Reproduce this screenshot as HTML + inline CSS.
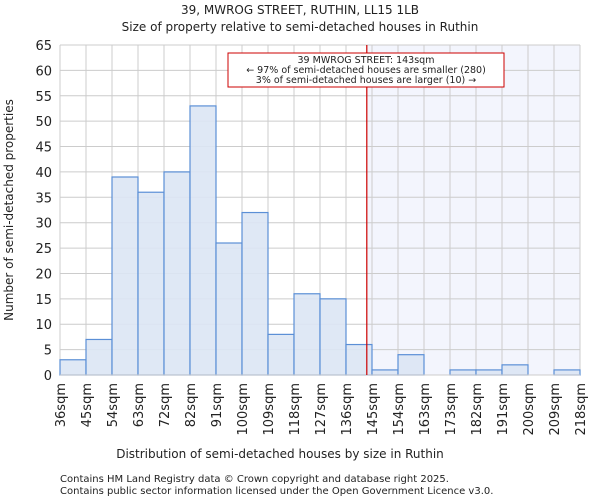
<!DOCTYPE html>
<html><head><meta charset="utf-8"><style>
body{margin:0;background:#fff;font-family:"DejaVu Sans","Liberation Sans",sans-serif;}
svg text{font-family:"DejaVu Sans","Liberation Sans",sans-serif;fill:#222;}
</style></head><body>
<svg id="c" width="600" height="500">
<text x="300" y="14" font-size="12" text-anchor="middle">39, MWROG STREET, RUTHIN, LL15 1LB</text>
<text x="300" y="31" font-size="12" text-anchor="middle">Size of property relative to semi-detached houses in Ruthin</text>
<g id="plot"></g>
<text x="280" y="458" font-size="12" text-anchor="middle">Distribution of semi-detached houses by size in Ruthin</text>
<text transform="translate(13,210) rotate(-90)" font-size="12" text-anchor="middle">Number of semi-detached properties</text>
<text x="60" y="482" font-size="10">Contains HM Land Registry data © Crown copyright and database right 2025.</text>
<text x="60" y="494" font-size="10">Contains public sector information licensed under the Open Government Licence v3.0.</text>
</svg>
<script>
const binLabels=["36sqm","45sqm","54sqm","63sqm","72sqm","82sqm","91sqm","100sqm","109sqm","118sqm","127sqm","136sqm","145sqm","154sqm","163sqm","173sqm","182sqm","191sqm","200sqm","209sqm","218sqm"];
const counts=[3,7,39,36,40,53,26,32,8,16,15,6,1,4,0,1,1,2,0,1];
const yTicks=[0,5,10,15,20,25,30,35,40,45,50,55,60,65];
const propertyIndex=11.8;
const X0=60,X1=580,Y0=375,Y1=45,YMAX=65;
const bw=(X1-X0)/counts.length;
const x=i=>X0+i*bw;
const y=v=>Y0-(v/YMAX)*(Y0-Y1);
const NS="http://www.w3.org/2000/svg";
const g=document.getElementById('plot');
function mk(t,a){const e=document.createElementNS(NS,t);for(const k in a)e.setAttribute(k,a[k]);g.appendChild(e);return e;}
const px=x(propertyIndex);
let sh=mk('rect',{x:px,y:Y1,width:X1-px,height:Y0-Y1,fill:'#f3f5fd'});


yTicks.forEach(t=>{
 let l=mk('line',{x1:X0,x2:X1,y1:y(t),y2:y(t),stroke:'#cccccc','stroke-width':1});
 
 
 let tx=mk('text',{x:X0-8,y:y(t)+5,'font-size':13,'text-anchor':'end'});tx.textContent=t;
 
 
});
binLabels.forEach((lb,i)=>{
 let l=mk('line',{x1:x(i),x2:x(i),y1:Y1,y2:Y0,stroke:'#cccccc','stroke-width':1});
 
 
 let tx=mk('text',{transform:`translate(${x(i)+5},${Y0+8}) rotate(-90)`,'font-size':13,'text-anchor':'end'});tx.textContent=lb;
 
 
});
counts.forEach((v,i)=>{
 if(v<=0)return;
 let r=mk('rect',{x:x(i),y:y(v),width:bw,height:Y0-y(v),fill:'#dce5f4',stroke:'#5b8fd6','stroke-width':1.2,'fill-opacity':0.9});
 
 
});
let ax=mk('line',{x1:X0,x2:X1,y1:Y0,y2:Y0,stroke:'#cccccc','stroke-width':1});


let rl=mk('line',{x1:px,x2:px,y1:Y1,y2:Y0,stroke:'#cc0000','stroke-width':1.2});


let bx=mk('rect',{x:228,y:53,width:276,height:34,fill:'#fff',stroke:'#cc0000','stroke-width':1});


[["39 MWROG STREET: 143sqm",63],["← 97% of semi-detached houses are smaller (280)",73],["3% of semi-detached houses are larger (10) →",83]].forEach(([s,yy])=>{
 let t=mk('text',{x:366,y:yy,'font-size':9.5,'text-anchor':'middle'});t.textContent=s;
 
 
});
</script>
</body></html>
